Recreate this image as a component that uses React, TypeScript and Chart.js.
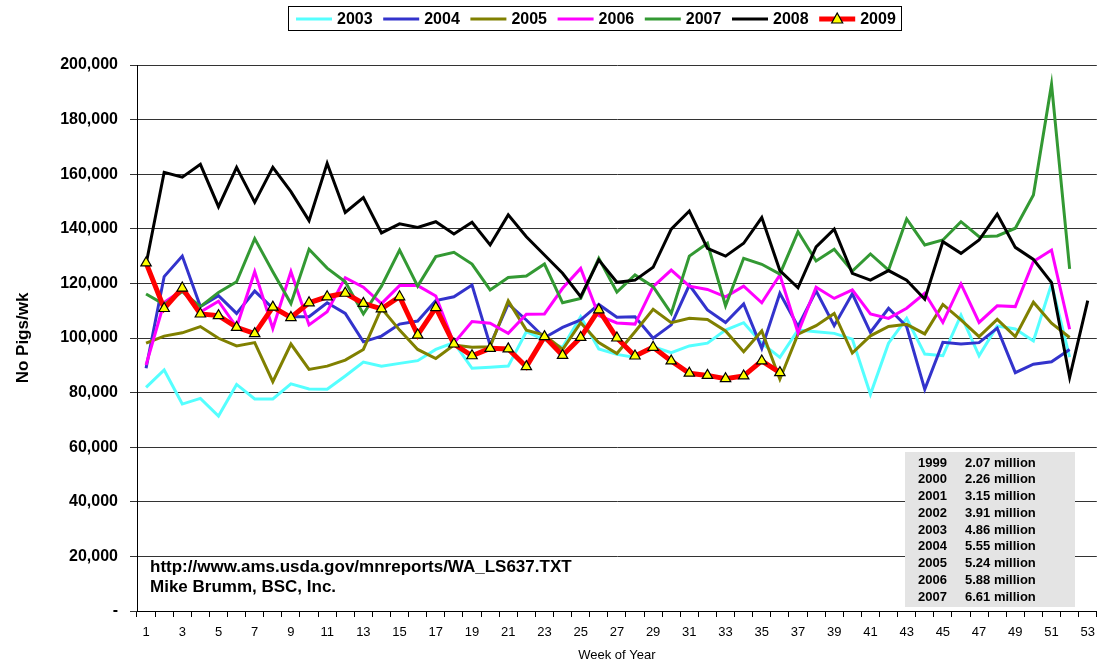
import React, { useEffect, useRef } from 'react';
import { Chart, registerables } from 'chart.js';
Chart.register(...registerables);

const weeks = ['1','2','3','4','5','6','7','8','9','10','11','12','13','14','15','16','17','18','19','20','21','22','23','24','25','26','27','28','29','30','31','32','33','34','35','36','37','38','39','40','41','42','43','44','45','46','47','48','49','50','51','52','53'];

const s2003 = [81900, 88300, 75800, 77900, 71400, 83000, 77700, 77700, 83200, 81300, 81200, 86100, 91200, 89700, 90700, 91700, 95800, 98300, 88900, 89300, 89700, 102300, 99300, 96600, 107800, 96000, 94000, 92900, 96800, 94600, 97100, 98100, 102900, 105600, 98100, 92900, 102900, 102300, 101700, 99600, 79400, 98100, 107200, 94100, 93500, 108400, 93500, 104400, 103300, 98900, 119800, 93000];
const s2004 = [88900, 122500, 130000, 111500, 115500, 109000, 117200, 110900, 107800, 107800, 112900, 109000, 98600, 100700, 105100, 106200, 113700, 115100, 119400, 97400, 112500, 106600, 100100, 103900, 106600, 112300, 107600, 107800, 99900, 104800, 119400, 110300, 105700, 112500, 96200, 116400, 104200, 117300, 104500, 116200, 102100, 110900, 104200, 81200, 98400, 97800, 98300, 103600, 87300, 90400, 91300, 95800];
const s2005 = [98100, 100700, 101900, 104200, 99900, 97100, 98300, 84000, 97800, 88500, 89700, 91900, 95800, 110900, 102900, 95800, 92500, 97400, 96600, 96800, 113600, 102900, 101100, 95800, 105600, 98300, 94300, 102300, 110500, 105600, 107200, 106800, 102600, 95000, 102600, 84900, 101400, 104500, 109000, 94500, 100800, 104200, 105000, 101500, 112300, 106600, 100500, 106800, 100500, 113100, 105400, 100200];
const s2006 = [90100, 113000, 117600, 109500, 113500, 104000, 124300, 103500, 124300, 104800, 109600, 122100, 118600, 112600, 119200, 119200, 115400, 98100, 106000, 105400, 101700, 108700, 108800, 118200, 125500, 108200, 105500, 105100, 118800, 124900, 119000, 117800, 115100, 119000, 112900, 123100, 101900, 118600, 114500, 117600, 108800, 107200, 110900, 116400, 105700, 119800, 105700, 111800, 111500, 128000, 132200, 103200];
const s2007 = [116100, 112300, 117000, 111500, 116700, 120600, 136400, 124300, 112600, 132500, 125600, 120600, 108800, 119000, 132200, 119000, 129800, 131400, 127100, 117600, 122200, 122700, 127100, 112900, 114500, 129200, 116800, 123100, 118800, 109000, 130000, 134700, 111800, 129200, 127000, 123400, 138900, 128200, 132500, 124500, 130800, 124900, 143600, 134100, 135900, 142600, 137100, 137400, 140200, 152400, 192900, 125300];
const s2008 = [127000, 160700, 158900, 163600, 148100, 162500, 149700, 162500, 153600, 143000, 164000, 146000, 151400, 138500, 141800, 140500, 142600, 138100, 142400, 134100, 145100, 137100, 130400, 123700, 115100, 128600, 120400, 121200, 125900, 139900, 146500, 132800, 130000, 134700, 144100, 124700, 118400, 133400, 139900, 123700, 121200, 124700, 121200, 114200, 135300, 131000, 135900, 145400, 133200, 128800, 120300, 85600, 113700];
const s2009 = [127500, 110800, 118300, 108800, 108200, 103900, 101600, 111300, 107500, 112900, 115100, 116400, 112700, 110700, 115100, 101100, 111100, 97800, 93500, 96200, 96000, 89500, 100500, 93600, 100200, 110300, 100000, 93400, 96600, 91600, 87100, 86300, 85100, 86100, 91600, 87300];

const seriesNames = ['2003', '2004', '2005', '2006', '2007', '2008', '2009'];
const seriesColors = ['#55ffff', '#3333cc', '#808000', '#ff00ff', '#339933', '#000000', '#ff0000'];

const tableYears = ['1999', '2000', '2001', '2002', '2003', '2004', '2005', '2006', '2007'];
const tableValues = ['2.07 million', '2.26 million', '3.15 million', '3.91 million', '4.86 million', '5.55 million', '5.24 million', '5.88 million', '6.61 million'];

const noteLines = ['http://www.ams.usda.gov/mnreports/WA_LS637.TXT', 'Mike Brumm, BSC, Inc.'];

const FONT = '"Liberation Sans", Arial, Helvetica, sans-serif';
const LAST = weeks.length - 1;

const decorPlugin = {
  id: 'decor',
  afterDraw(chart: any) {
    const ctx = chart.ctx;
    ctx.save();
    // last x tick label (drawn here so it adds no right padding)
    const xs = chart.scales.x;
    const items = xs.getLabelItems ? xs.getLabelItems() : [];
    const ref0 = items.find((it: any) => it.label === weeks[0]);
    ctx.font = '13px ' + FONT;
    ctx.fillStyle = '#000';
    ctx.textAlign = 'center';
    if (ref0) {
      ctx.textBaseline = ref0.options.textBaseline;
      ctx.fillText(weeks[LAST], xs.getPixelForTick(LAST), ref0.options.translation[1] + (ref0.textOffset || 0));
    } else {
      ctx.textBaseline = 'top';
      ctx.fillText(weeks[LAST], xs.getPixelForTick(LAST), xs.top + 14);
    }
    // legend box
    ctx.textAlign = 'left';
    ctx.strokeStyle = '#000';
    ctx.lineWidth = 1;
    ctx.strokeRect(288.5, 6.5, 613, 24);
    ctx.font = 'bold 16px ' + FONT;
    ctx.textBaseline = 'middle';
    seriesNames.forEach((name, i) => {
      const x0 = 296 + i * 87.2;
      const y = 19;
      ctx.beginPath();
      ctx.strokeStyle = seriesColors[i];
      ctx.lineWidth = i === 6 ? 5 : 3;
      ctx.moveTo(x0, y);
      ctx.lineTo(x0 + 36, y);
      ctx.stroke();
      if (i === 6) {
        const cx = x0 + 18;
        ctx.beginPath();
        ctx.moveTo(cx, y - 6);
        ctx.lineTo(cx + 5.5, y + 4);
        ctx.lineTo(cx - 5.5, y + 4);
        ctx.closePath();
        ctx.fillStyle = '#ffff00';
        ctx.fill();
        ctx.lineWidth = 1.2;
        ctx.strokeStyle = '#000';
        ctx.stroke();
      }
      ctx.fillStyle = '#000';
      ctx.fillText(name, x0 + 41, y + 1);
    });
    // table box
    ctx.fillStyle = '#e4e4e4';
    ctx.fillRect(905, 452, 170, 155);
    ctx.fillStyle = '#000';
    ctx.font = 'bold 13px ' + FONT;
    tableYears.forEach((yr, i) => {
      const y = 463 + i * 16.75;
      ctx.fillText(yr, 918, y);
      ctx.fillText(tableValues[i], 965, y);
    });
    // note
    ctx.font = 'bold 17px ' + FONT;
    noteLines.forEach((t, i) => {
      ctx.fillText(t, 150, 567 + i * 20);
    });
    ctx.restore();
  },
};

export default function App() {
  const ref = useRef<HTMLCanvasElement>(null);
  useEffect(() => {
    if (!ref.current) return;
    const all = [s2003, s2004, s2005, s2006, s2007, s2008, s2009];
    const datasets = all.map((d, i) => {
      const is09 = i === 6;
      return {
        label: seriesNames[i],
        data: d,
        borderColor: seriesColors[i],
        backgroundColor: seriesColors[i],
        borderWidth: is09 ? 5 : 3,
        tension: 0,
        pointRadius: is09 ? 6 : 0,
        pointHoverRadius: is09 ? 6 : 0,
        pointStyle: 'triangle',
        pointBackgroundColor: '#ffff00',
        pointBorderColor: '#000000',
        pointBorderWidth: 1.2,
        order: 6 - i,
        fill: false,
      };
    });
    const chart = new Chart(ref.current, {
      type: 'line',
      data: { labels: weeks, datasets },
      plugins: [decorPlugin],
      options: {
        animation: false,
        responsive: false,
        devicePixelRatio: 1,
        layout: { padding: { top: 65, right: 2, left: 0, bottom: 0 } },
        plugins: { legend: { display: false }, tooltip: { enabled: false } },
        scales: {
          x: {
            type: 'category',
            offset: true,
            afterFit(scale: any) { scale.height = 54; },
            border: { color: '#000', width: 1 },
            grid: { display: true, drawOnChartArea: false, drawTicks: true, tickLength: 6, color: '#000', offset: true },
            ticks: {
              autoSkip: false,
              maxRotation: 0,
              padding: 8,
              color: '#000',
              font: { family: FONT, size: 13 },
              callback: (v: any, idx: number) => (idx % 2 === 0 && idx !== LAST ? weeks[idx] : ''),
            },
            title: { display: true, text: 'Week of Year', color: '#000', font: { family: FONT, size: 13 }, padding: { top: 0, bottom: 2 } },
          },
          y: {
            min: 0,
            max: 200000,
            afterFit(scale: any) { scale.width = 137; },
            border: { color: '#000', width: 1 },
            grid: { color: '#333', lineWidth: 1, drawTicks: true, tickLength: 7 },
            ticks: {
              stepSize: 20000,
              padding: 12,
              color: '#000',
              font: { family: FONT, size: 16, weight: 'bold' },
              callback: (v: any) => (v === 0 ? '-' : Number(v).toLocaleString('en-US')),
            },
            title: { display: true, text: 'No Pigs/wk', color: '#000', font: { family: FONT, size: 17, weight: 'bold' }, padding: { top: 13, bottom: 0 } },
          },
        },
      } as any,
    });
    return () => chart.destroy();
  }, []);
  return (
    <div style={{ position: 'fixed', left: 0, top: 0, width: 1104, height: 665, background: '#fff' }}>
      <canvas ref={ref} width={1104} height={665} style={{ width: 1104, height: 665 }} />
    </div>
  );
}
